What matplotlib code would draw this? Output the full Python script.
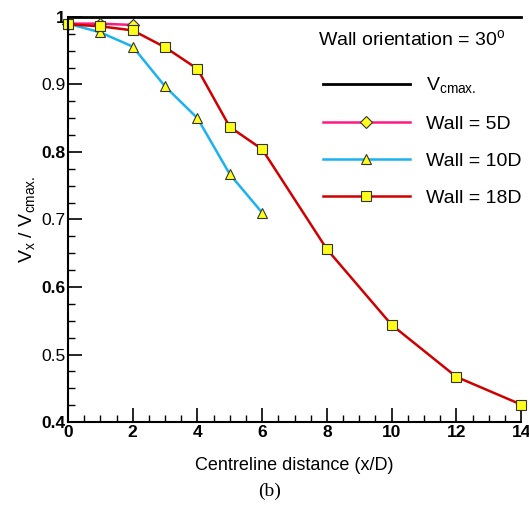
import matplotlib.pyplot as plt
from matplotlib.ticker import MultipleLocator

plt.rcParams['font.family'] = ['Liberation Sans', 'DejaVu Sans']

# data
x_5d = [0, 1, 2]
v_5d = [0.990, 0.990, 0.988]
x_10d = [0, 1, 2, 3, 4, 5, 6]
v_10d = [0.990, 0.977, 0.956, 0.897, 0.850, 0.767, 0.710]
x_18d = [0, 1, 2, 3, 4, 5, 6, 8, 10, 12, 14]
v_18d = [0.989, 0.986, 0.980, 0.955, 0.923, 0.837, 0.804, 0.656, 0.544, 0.467, 0.426]
x_cmax = [0, 14]
v_cmax = [1.0, 1.0]
xticks = [0, 2, 4, 6, 8, 10, 12, 14]
yticks = [0.4, 0.5, 0.6, 0.7, 0.8, 0.9, 1.0]
ylabs = ['0.4', '0.5', '0.6', '0.7', '0.8', '0.9', '1']

fig = plt.figure(figsize=(5.29, 5.11), dpi=100)
ax = fig.add_axes([0.1285, 0.174, 0.8565, 0.793])

yel = '#ffff1a'
edge = '#333333'
ax.plot(x_cmax, v_cmax, color='black', lw=2, label=r'V$_{\mathregular{cmax.}}$', clip_on=False)
ax.plot(x_5d, v_5d, color='#ff1a80', lw=1.8, marker='D', ms=6, mfc=yel, mec=edge,
        mew=0.8, label='Wall = 5D', clip_on=False)
ax.plot(x_10d, v_10d, color='#1ab2f0', lw=1.8, marker='^', ms=7, mfc=yel, mec=edge,
        mew=0.8, label='Wall = 10D', clip_on=False)
ax.plot(x_18d, v_18d, color='#d00000', lw=1.8, marker='s', ms=6.5, mfc=yel, mec=edge,
        mew=0.8, label='Wall = 18D', clip_on=False)

ax.set_xlim(0, 14)
ax.set_ylim(0.4, 1.0)
ax.spines['top'].set_visible(False)
ax.spines['right'].set_visible(False)
ax.spines['left'].set_linewidth(1.5)
ax.spines['bottom'].set_linewidth(1.5)

ax.set_xticks(xticks)
ax.set_xticklabels([str(v) for v in xticks], fontweight='bold')
ax.set_yticks(yticks)
ax.set_yticklabels(ylabs)
for i, t in enumerate(ax.get_yticklabels()):
    if i % 2 == 0:
        t.set_fontweight('bold')
ax.xaxis.set_minor_locator(MultipleLocator(0.5))
ax.yaxis.set_minor_locator(MultipleLocator(0.025))
ax.tick_params(which='major', direction='in', length=10, width=1.2, labelsize=12.5, pad=2)
ax.tick_params(which='minor', direction='in', length=5, width=1)

ax.set_xlabel('Centreline distance (x/D)', fontsize=13, labelpad=12)
ax.set_ylabel(r'V$_{\mathregular{x}}$ / V$_{\mathregular{cmax.}}$', fontsize=14, labelpad=2)

ax.legend(loc='upper right', bbox_to_anchor=(1.0, 0.855), frameon=False,
          fontsize=14, handlelength=4.5, labelspacing=1.0, handletextpad=0.8,
          borderpad=0, borderaxespad=0)
fig.text(0.779, 0.922, r'Wall orientation = 30$^{\mathregular{o}}$', fontsize=14,
         ha='center', va='center')

fig.text(0.51, 0.03, '(b)', family='Liberation Serif', fontsize=14, ha='center')

fig.savefig('out.png', dpi=100)
